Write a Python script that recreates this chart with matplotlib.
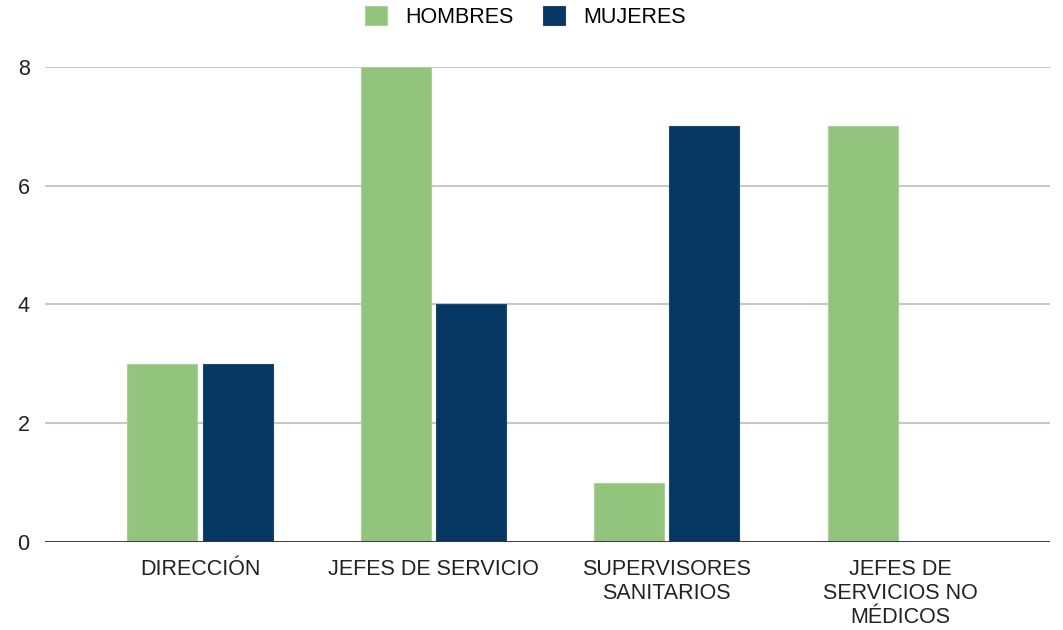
import numpy as np
import matplotlib.pyplot as plt

plt.rcParams["font.family"] = ["Liberation Sans", "DejaVu Sans"]

categories = ["DIRECCIÓN", "JEFES DE SERVICIO", "SUPERVISORES\nSANITARIOS", "JEFES DE\nSERVICIOS NO\nMÉDICOS"]
hombres = [3, 8, 1, 7]
mujeres = [3, 4, 7, 0]

green = "#93c47d"
navy = "#073763"

fig = plt.figure(figsize=(10.63, 6.3), dpi=100)
ax = fig.add_axes([0.0423, 0.1397, 0.9457, 0.7540])

x = np.arange(len(categories))
w = 0.30
ax.bar(x - 0.161, hombres, w, color=green, edgecolor="#a9d196", linewidth=0.8,
       label="HOMBRES", zorder=3)
ax.bar(x + 0.161, mujeres, w, color=navy, edgecolor="#1d4870", linewidth=0.8,
       label="MUJERES", zorder=3)

ax.set_xlim(-0.664, 3.643)
ax.set_ylim(0, 8)
ax.set_yticks([0, 2, 4, 6, 8])
ax.yaxis.grid(True, color="#c8c8c8", linewidth=1.5, zorder=0)
ax.axhline(0, color="#333333", linewidth=2, zorder=4)
for s in ax.spines.values():
    s.set_visible(False)
ax.tick_params(axis="both", length=0, labelsize=15.5, colors="#222222")
ax.tick_params(axis="y", pad=11)
ax.tick_params(axis="x", pad=12)
ax.set_xticks(x)
ax.set_xticklabels(categories, linespacing=1.2)

ax.legend(loc="upper center", bbox_to_anchor=(0.478, 1.17), ncol=2, frameon=False,
          fontsize=15.5, handlelength=1.0, handleheight=1.0, columnspacing=1.4,
          handletextpad=0.85)

fig.savefig("out.png", dpi=100)
